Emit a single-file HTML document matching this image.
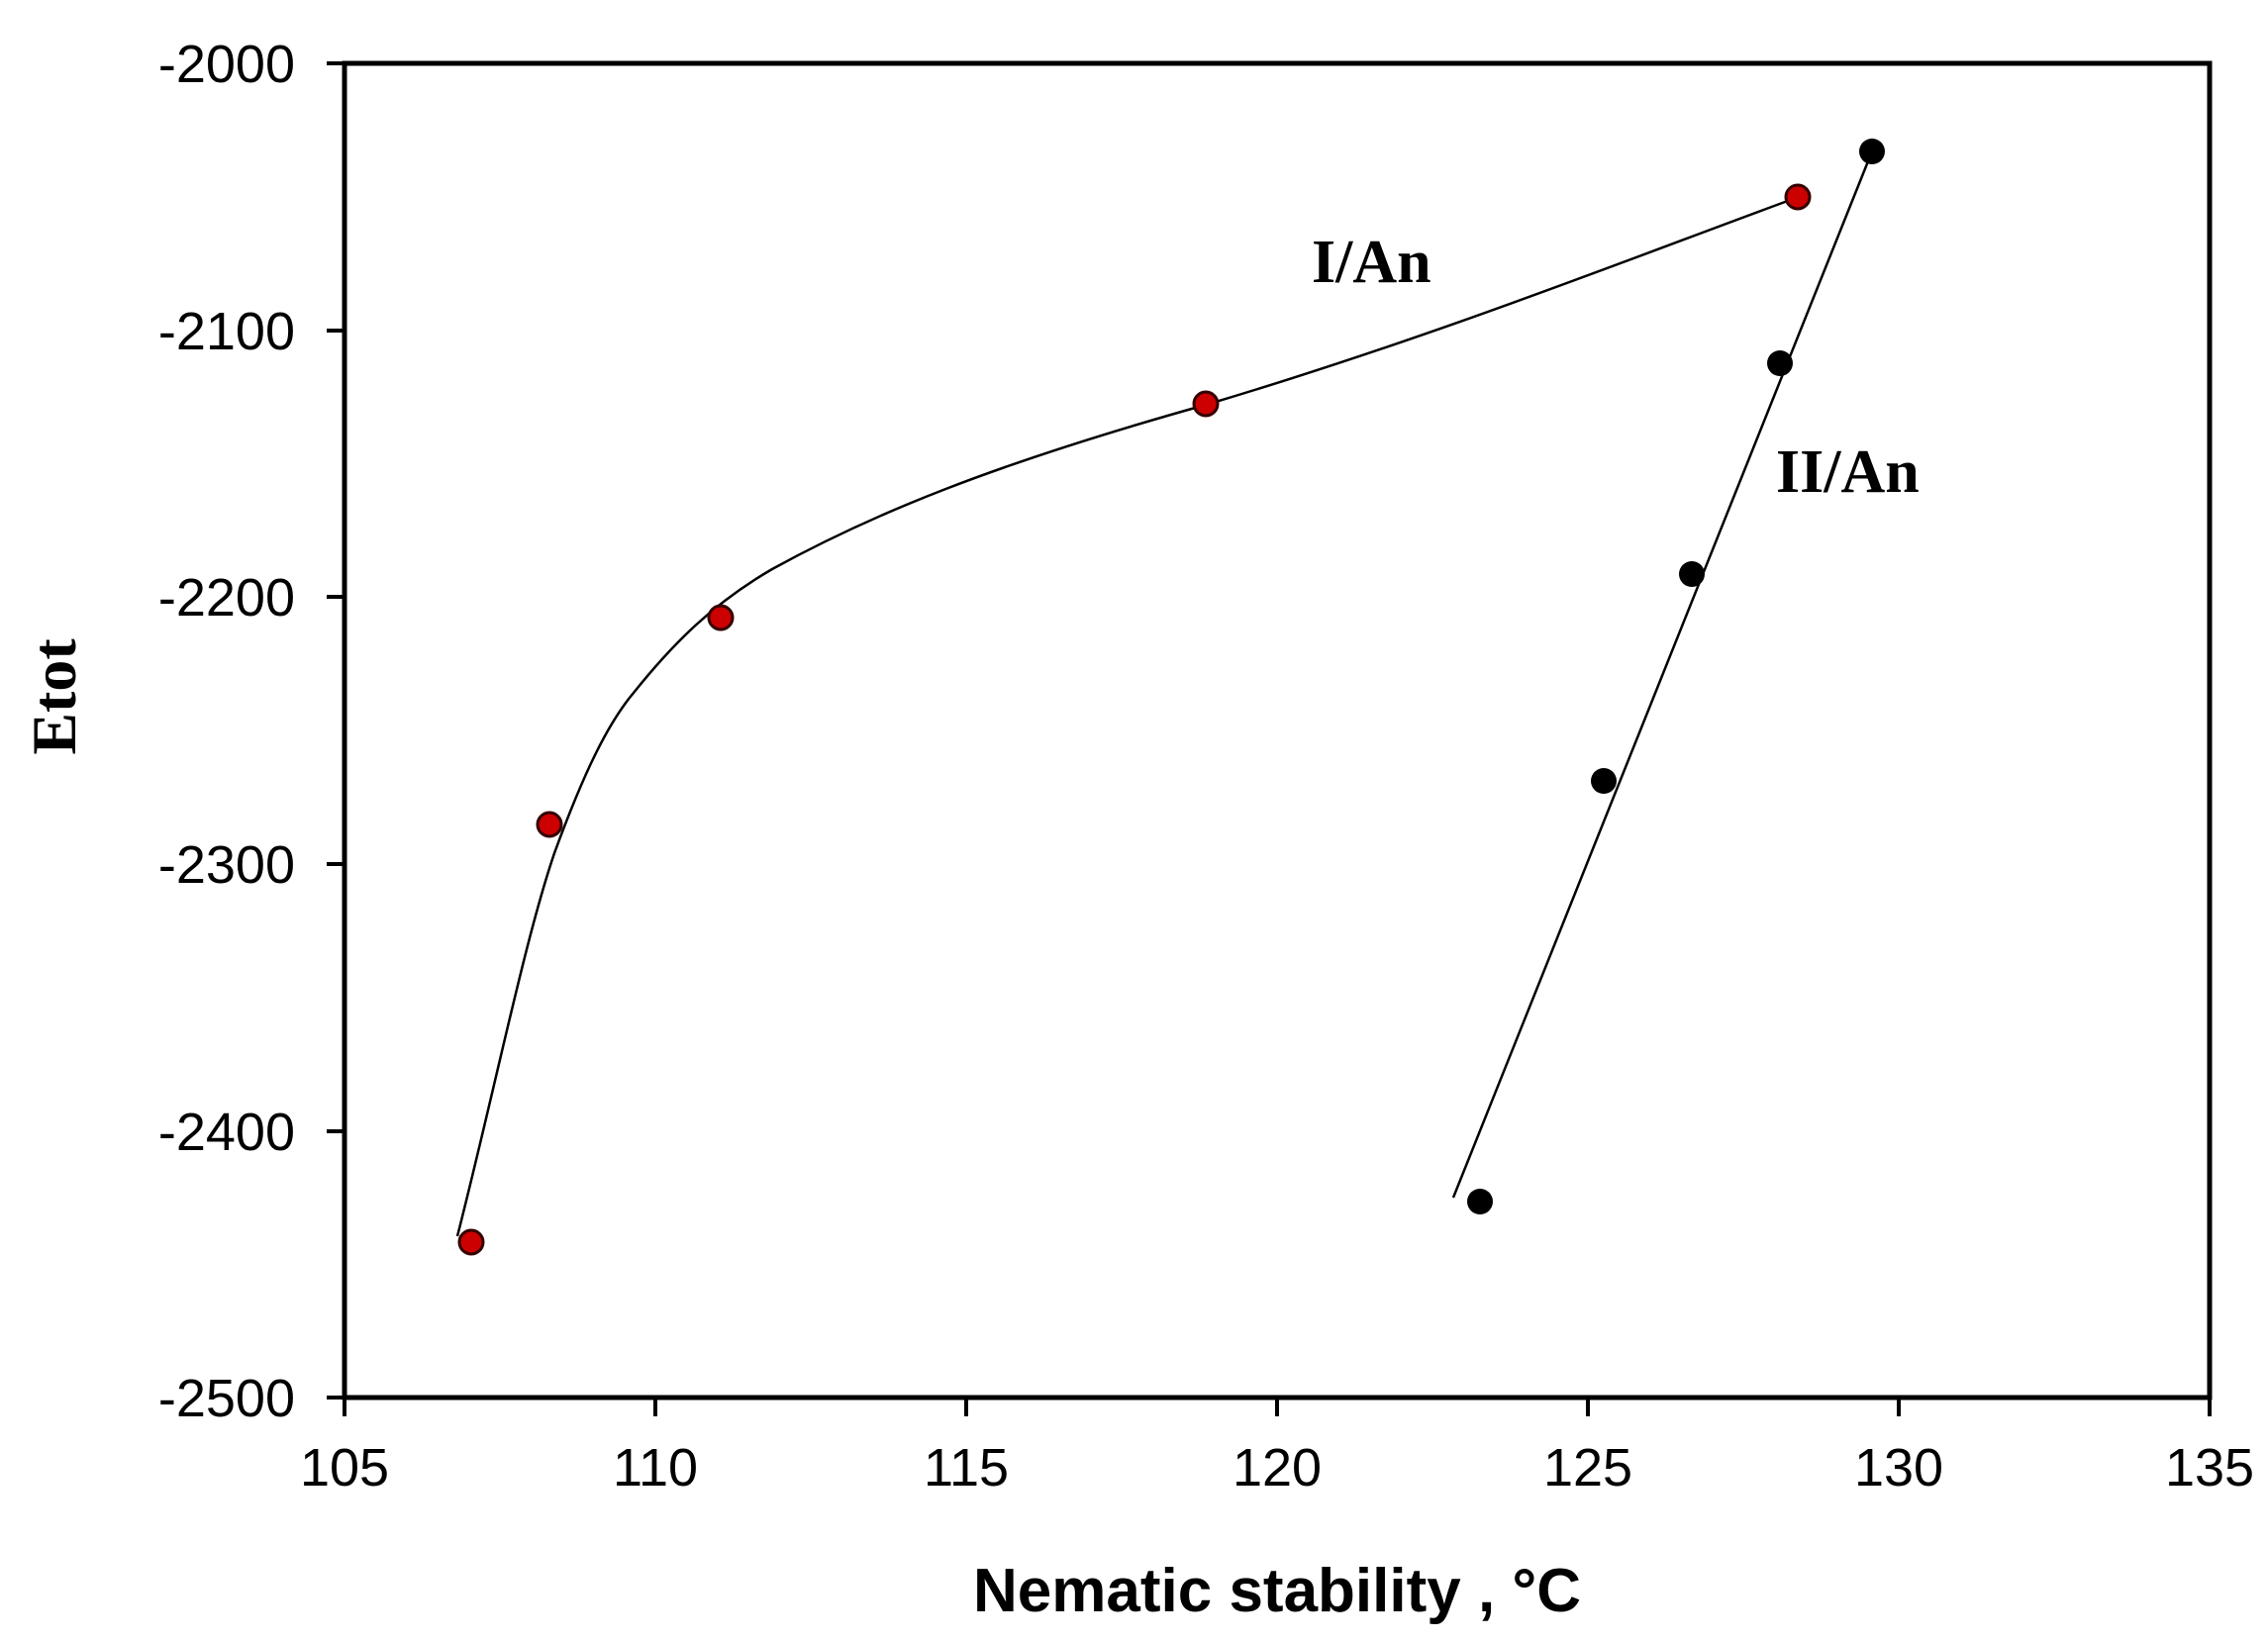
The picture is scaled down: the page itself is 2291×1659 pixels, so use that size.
<!DOCTYPE html>
<html><head><meta charset="utf-8"><style>html,body{margin:0;padding:0;background:#fff}</style></head>
<body>
<svg width="2291" height="1654" viewBox="0 0 2291 1654" xmlns="http://www.w3.org/2000/svg">
<rect width="2291" height="1654" fill="#fff"/>
<g stroke="#000" stroke-width="5" fill="none">
<rect x="348" y="64" width="1884" height="1348"/>
</g>
<g stroke="#000" stroke-width="4">
<line x1="330" y1="64" x2="348" y2="64"/><line x1="330" y1="334" x2="348" y2="334"/>
<line x1="330" y1="603" x2="348" y2="603"/><line x1="330" y1="873" x2="348" y2="873"/>
<line x1="330" y1="1143" x2="348" y2="1143"/><line x1="330" y1="1412" x2="348" y2="1412"/>
<line x1="348" y1="1412" x2="348" y2="1431"/><line x1="662" y1="1412" x2="662" y2="1431"/>
<line x1="976" y1="1412" x2="976" y2="1431"/><line x1="1290" y1="1412" x2="1290" y2="1431"/>
<line x1="1604" y1="1412" x2="1604" y2="1431"/><line x1="1918" y1="1412" x2="1918" y2="1431"/>
<line x1="2232" y1="1412" x2="2232" y2="1431"/>
</g>
<g font-family="Liberation Sans, sans-serif" font-size="54" fill="#000" text-anchor="end">
<text x="298" y="83">-2000</text><text x="298" y="353">-2100</text><text x="298" y="622">-2200</text>
<text x="298" y="892">-2300</text><text x="298" y="1162">-2400</text><text x="298" y="1431">-2500</text>
</g>
<g font-family="Liberation Sans, sans-serif" font-size="54" fill="#000" text-anchor="middle">
<text x="348" y="1501">105</text><text x="662" y="1501">110</text><text x="976" y="1501">115</text>
<text x="1290" y="1501">120</text><text x="1604" y="1501">125</text><text x="1918" y="1501">130</text>
<text x="2232" y="1501">135</text>
</g>
<text x="1290" y="1628" font-family="Liberation Sans, sans-serif" font-weight="bold" font-size="62" text-anchor="middle">Nematic stability , °C</text>
<text transform="translate(76,704) rotate(-90)" font-family="Liberation Serif, serif" font-weight="bold" font-size="64" text-anchor="middle">Etot</text>
<text x="1325" y="285" font-family="Liberation Serif, serif" font-weight="bold" font-size="62">I/An</text>
<text x="1794" y="497" font-family="Liberation Serif, serif" font-weight="bold" font-size="62">II/An</text>
<path d="M462,1249 C500,1100 530,950 560,862 C590,780 614,731 640,700 C680,650 720,610 780,575 C880,520 1000,470 1218,409 C1450,340 1650,260 1814,200" stroke="#000" stroke-width="2.5" fill="none"/>
<line x1="1468" y1="1210" x2="1893" y2="148" stroke="#000" stroke-width="2.5"/>
<g fill="#cc0000" stroke="#300" stroke-width="3">
<circle cx="476" cy="1255" r="12"/><circle cx="555" cy="833" r="12"/><circle cx="728" cy="624" r="12"/>
<circle cx="1218" cy="408" r="12"/><circle cx="1816" cy="199" r="12"/>
</g>
<g fill="#000">
<circle cx="1891" cy="153" r="13"/><circle cx="1798" cy="367" r="13"/><circle cx="1709" cy="580" r="13"/>
<circle cx="1620" cy="789" r="13"/><circle cx="1495" cy="1214" r="13"/>
</g>
</svg>
</body></html>
